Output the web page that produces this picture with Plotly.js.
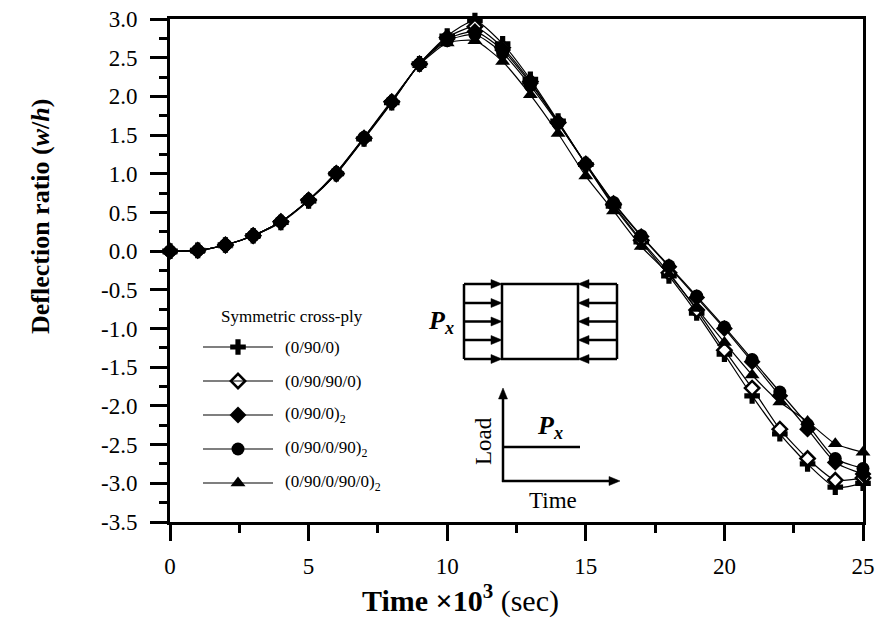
<!DOCTYPE html>
<html>
<head>
<meta charset="utf-8">
<script src="https://cdn.plot.ly/plotly-3.0.1.min.js"></script>
<style>html,body{margin:0;padding:0;background:#fff;}#chart{width:878px;height:619px;}</style>
</head>
<body>
<div id="chart"></div>
<script>
// ---- data ----
const time = [0,1,2,3,4,5,6,7,8,9,10,11,12,13,14,15,16,17,18,19,20,21,22,23,24,25];
const s0_90_0 = [0,0.01,0.08,0.20,0.37,0.65,1.00,1.45,1.92,2.42,2.78,2.98,2.68,2.22,1.68,1.12,0.58,0.12,-0.32,-0.80,-1.33,-1.87,-2.36,-2.75,-3.05,-3.00];
const s0_90_90_0 = [0,0.01,0.08,0.20,0.38,0.66,1.00,1.46,1.93,2.42,2.76,2.90,2.63,2.19,1.66,1.12,0.60,0.14,-0.28,-0.76,-1.28,-1.77,-2.30,-2.68,-2.96,-2.93];
const s0_90_0_2 = [0,0.01,0.08,0.20,0.38,0.66,1.01,1.46,1.93,2.42,2.74,2.84,2.60,2.17,1.67,1.13,0.62,0.19,-0.20,-0.60,-1.00,-1.43,-1.87,-2.30,-2.73,-2.88];
const s0_90_0_90_2 = [0,0.01,0.08,0.20,0.38,0.66,1.01,1.47,1.93,2.42,2.72,2.80,2.56,2.14,1.65,1.13,0.63,0.20,-0.19,-0.58,-0.98,-1.40,-1.82,-2.24,-2.68,-2.81];
const s0_90_0_90_0_2 = [0,0.01,0.08,0.20,0.38,0.66,1.02,1.47,1.95,2.41,2.69,2.72,2.45,2.02,1.52,0.97,0.52,0.06,-0.30,-0.74,-1.18,-1.60,-1.95,-2.20,-2.49,-2.60];
const seriesNames = ['(0/90/0)','(0/90/90/0)','(0/90/0)<sub>2</sub>','(0/90/0/90)<sub>2</sub>','(0/90/0/90/0)<sub>2</sub>'];
const seriesValues = [s0_90_0, s0_90_90_0, s0_90_0_2, s0_90_0_90_2, s0_90_0_90_0_2];
const seriesSymbols = ['cross','diamond','diamond','circle','triangle-up'];
const seriesFill = ['#000','#fff','#000','#000','#000'];
const yTickVals = [-3.5,-3.0,-2.5,-2.0,-1.5,-1.0,-0.5,0,0.5,1.0,1.5,2.0,2.5,3.0];
const yTickText = ['-3.5','-3.0','-2.5','-2.0','-1.5','-1.0','-0.5','0.0','0.5','1.0','1.5','2.0','2.5','3.0'];
const xTickVals = [0,5,10,15,20,25];
const xTickText = ['0','5','10','15','20','25'];

// ---- layout helpers (pixel -> paper) ----
const W=878,H=619,L=170,R=863,T=19,B=522;
const fx = px => (px-L)/(R-L);
const fy = py => (B-py)/(B-T);
const FONT = 'Liberation Serif, Times New Roman, serif';

function markerStyle(i){
  const open = seriesFill[i] === '#fff';
  return {symbol: seriesSymbols[i], size: open?11:13, color: seriesFill[i],
          line:{color:'#000', width: open?2.5:0}};
}

const traces = [];
seriesValues.forEach((vals,i)=>{
  traces.push({
    x: time, y: vals, type:'scatter', mode:'lines+markers', name: seriesNames[i],
    showlegend:false, cliponaxis:false,
    line:{color:'#000', width:1.2, shape:'spline', smoothing:0.6},
    marker: markerStyle(i)
  });
});

// custom legend (markers drawn on an overlay 0..1 axis pair)
const legY = [347,381,415,449,483];
const legLineX0 = 203, legLineX1 = 273, legMarkX = 238, legTextX = 283;
const shapes = [];
const annotations = [];
seriesValues.forEach((vals,i)=>{
  shapes.push({type:'line', xref:'paper', yref:'paper', x0:fx(legLineX0), x1:fx(legLineX1), y0:fy(legY[i]), y1:fy(legY[i]), line:{color:'#000', width:1.2}, layer:'above'});
  traces.push({
    x:[fx(legMarkX)], y:[fy(legY[i])], xaxis:'x2', yaxis:'y2', type:'scatter', mode:'markers',
    showlegend:false, hoverinfo:'skip', cliponaxis:false, marker: markerStyle(i)
  });
  annotations.push({xref:'paper', yref:'paper', x:fx(legTextX), y:fy(legY[i]), xanchor:'left', yanchor:'middle',
    text: seriesNames[i], showarrow:false, font:{family:FONT, size:17, color:'#000'}});
});
annotations.push({xref:'paper', yref:'paper', x:fx(292), y:fy(316), xanchor:'center', yanchor:'middle',
  text:'Symmetric cross-ply', showarrow:false, font:{family:FONT, size:17, color:'#000'}});

// arrow helper: line + filled head, all in pixel terms converted to paper
const lw = 2.5;
function arrow(x0,y0,x1,y1){ // tail (x0,y0) -> head (x1,y1)
  const dx=x1-x0, dy=y1-y0, len=Math.hypot(dx,dy), ux=dx/len, uy=dy/len;
  const hl=11, hw=4.5;
  const bx=x1-ux*hl, by=y1-uy*hl;
  shapes.push({type:'line', xref:'paper', yref:'paper', x0:fx(x0), y0:fy(y0), x1:fx(bx), y1:fy(by), line:{color:'#000', width:lw}, layer:'above'});
  const p1=[bx-uy*hw, by+ux*hw], p2=[bx+uy*hw, by-ux*hw];
  shapes.push({type:'path', xref:'paper', yref:'paper',
    path:`M${fx(x1)},${fy(y1)} L${fx(p1[0])},${fy(p1[1])} L${fx(p2[0])},${fy(p2[1])} Z`,
    fillcolor:'#000', line:{color:'#000', width:0.5}, layer:'above'});
}

// inset: plate with compressive loads
shapes.push({type:'rect', xref:'paper', yref:'paper', x0:fx(502), x1:fx(578), y0:fy(359), y1:fy(284), line:{color:'#000', width:lw}, layer:'above'});
shapes.push({type:'line', xref:'paper', yref:'paper', x0:fx(464), x1:fx(464), y0:fy(359), y1:fy(284), line:{color:'#000', width:lw}, layer:'above'});
shapes.push({type:'line', xref:'paper', yref:'paper', x0:fx(617), x1:fx(617), y0:fy(359), y1:fy(284), line:{color:'#000', width:lw}, layer:'above'});
[284,303,321.5,340,359].forEach(yy=>{
  arrow(464,yy,502,yy);
  arrow(617,yy,578,yy);
});
annotations.push({xref:'paper', yref:'paper', x:fx(456), y:fy(322), xanchor:'right', yanchor:'middle',
  text:'<b><i>P<sub>x</sub></i></b>', showarrow:false, font:{family:FONT, size:26, color:'#000'}});

// inset: load-time diagram
arrow(503,482,503,388);
arrow(502,481,620,481);
shapes.push({type:'line', xref:'paper', yref:'paper', x0:fx(503), x1:fx(580), y0:fy(447), y1:fy(447), line:{color:'#000', width:lw}, layer:'above'});
annotations.push({xref:'paper', yref:'paper', x:fx(550), y:fy(427), xanchor:'center', yanchor:'middle',
  text:'<b><i>P<sub>x</sub></i></b>', showarrow:false, font:{family:FONT, size:26, color:'#000'}});
annotations.push({xref:'paper', yref:'paper', x:fx(483), y:fy(441), xanchor:'center', yanchor:'middle', textangle:-90,
  text:'Load', showarrow:false, font:{family:FONT, size:23, color:'#000'}});
annotations.push({xref:'paper', yref:'paper', x:fx(553), y:fy(500), xanchor:'center', yanchor:'middle',
  text:'Time', showarrow:false, font:{family:FONT, size:23, color:'#000'}});

// axis titles (placed as in the reference)
annotations.push({xref:'paper', yref:'paper', x:fx(40), y:fy(217), xanchor:'center', yanchor:'middle', textangle:-90,
  text:'<b>Deflection ratio (<i>w</i>/<i>h</i>)</b>', showarrow:false, font:{family:FONT, size:26, color:'#000'}});
annotations.push({xref:'paper', yref:'paper', x:fx(460), y:fy(598), xanchor:'center', yanchor:'middle',
  text:'<b>Time ×10<sup>3</sup></b> (sec)', showarrow:false, font:{family:FONT, size:30, color:'#000'}});

const layout = {
  width:W, height:H,
  margin:{l:L, r:W-R, t:T, b:H-B, pad:0},
  paper_bgcolor:'#fff', plot_bgcolor:'#fff',
  font:{family:FONT, color:'#000', size:20},
  showlegend:false,
  xaxis:{
    range:[0,25], tickvals:xTickVals, ticktext:xTickText, ticks:'outside', ticklen:16, tickwidth:3, tickcolor:'#000',
    showline:true, linewidth:3, linecolor:'#000', mirror:true, showgrid:false, zeroline:false,
    ticklabelstandoff:5, tickfont:{family:FONT, size:23, color:'#000'},
    minor:{dtick:2.5, ticks:'outside', ticklen:8, tickwidth:3, tickcolor:'#000', showgrid:false}
  },
  yaxis:{
    range:[-3.5,3.0], tickvals:yTickVals, ticktext:yTickText, ticks:'outside', ticklen:17, tickwidth:3, tickcolor:'#000',
    showline:true, linewidth:3, linecolor:'#000', mirror:true, showgrid:false, zeroline:false,
    ticklabelstandoff:8, tickfont:{family:FONT, size:23, color:'#000'},
    minor:{dtick:0.25, ticks:'outside', ticklen:8, tickwidth:3, tickcolor:'#000', showgrid:false}
  },
  xaxis2:{overlaying:'x', anchor:'y2', range:[0,1], visible:false, fixedrange:true},
  yaxis2:{overlaying:'y', anchor:'x2', range:[0,1], visible:false, fixedrange:true},
  shapes: shapes,
  annotations: annotations
};

Plotly.newPlot('chart', traces, layout, {displayModeBar:false, staticPlot:true});
</script>
</body>
</html>
